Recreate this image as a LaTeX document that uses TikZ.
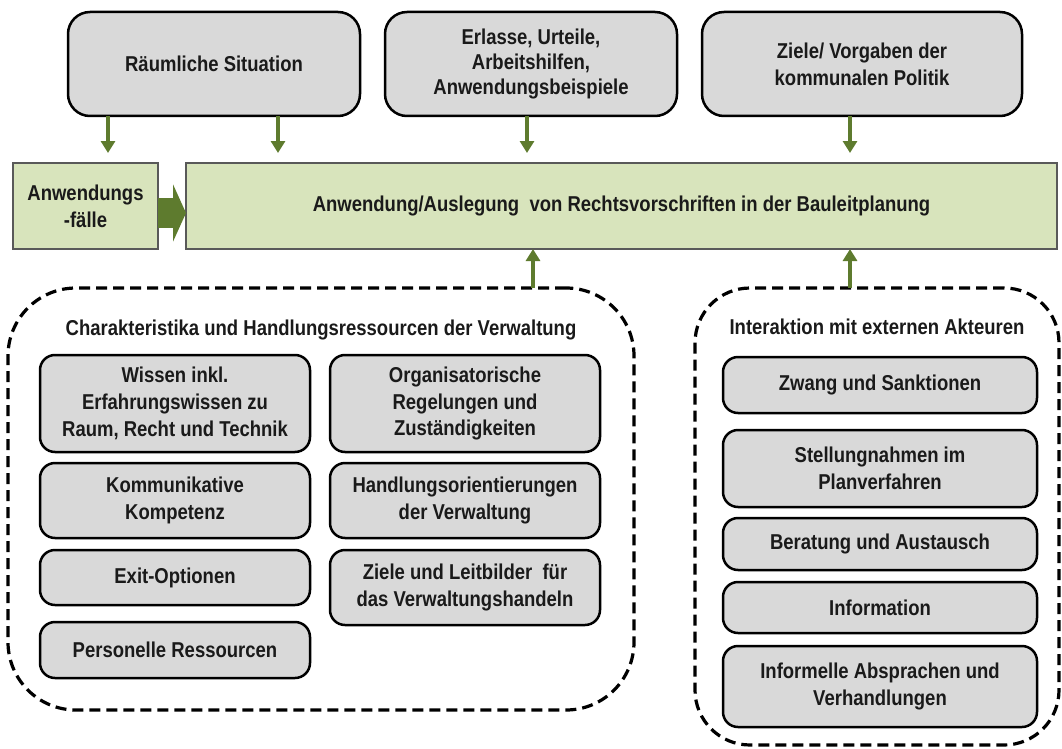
\documentclass[tikz,border=0pt]{standalone}
\usepackage{fontspec}
\setmainfont{Liberation Sans}[FakeStretch=0.86]
\usetikzlibrary{arrows.meta}

\definecolor{boxgray}{HTML}{D9D9D9}
\definecolor{lightgreen}{HTML}{D8E4BC}
\definecolor{framegray}{HTML}{595959}
\definecolor{arrowgreen}{HTML}{5E7B2E}
\definecolor{ink}{HTML}{1A1A1A}

\tikzset{
  every node/.style={outer sep=0pt, inner sep=2pt, align=center, text=ink,
    font=\fontsize{21.5}{26.7}\selectfont\bfseries},
  topbox/.style={draw=black, line width=2.5pt, fill=boxgray, rounded corners=22pt},
  itembox/.style={draw=black, line width=2.5pt, fill=boxgray, rounded corners=15pt},
  greenbox/.style={draw=framegray, line width=2pt, fill=lightgreen},
  region/.style={draw=black, line width=3.2pt, dash pattern=on 11pt off 6pt},
  feed/.style={draw=arrowgreen, line width=4pt, -{Triangle[length=12pt,width=14pt]}},
}

\begin{document}
\begin{tikzpicture}[x=1pt,y=-1pt]
\useasboundingbox (0,0) rectangle (1062,749);

% influences at the top
\node[topbox, minimum width=292pt, minimum height=104pt] (raum) at (214,64) {Räumliche Situation};
\node[topbox, minimum width=292pt, minimum height=104pt,
      font=\fontsize{21.5}{25}\selectfont\bfseries] (erl) at (531,64) {Erlasse, Urteile,\\Arbeitshilfen,\\Anwendungsbeispiele};
\node[topbox, minimum width=320pt, minimum height=104pt] (ziel) at (862,64) {Ziele/ Vorgaben der\\kommunalen Politik};

% central row
\node[greenbox, minimum width=145pt, minimum height=86pt] (af) at (85.5,206) {Anwendungs\\-fälle};
\node[greenbox, minimum width=871pt, minimum height=86pt] (main) at (621.5,206) {Anwendung/Auslegung\ \ von Rechtsvorschriften in der Bauleitplanung};

% administration resources
\node[region, rounded corners=68pt, minimum width=626pt, minimum height=422pt] (verw) at (321,499) {};
\node (verwt) at (321,330) {Charakteristika und Handlungsressourcen der Verwaltung};
\node[itembox, minimum width=270pt, minimum height=97pt] (wissen) at (175,403.5) {Wissen inkl.\\Erfahrungswissen zu\\Raum, Recht und Technik};
\node[itembox, minimum width=270pt, minimum height=75pt] (komm) at (175,500.5) {Kommunikative\\Kompetenz};
\node[itembox, minimum width=270pt, minimum height=55pt] (exit) at (175,577.5) {Exit-Optionen};
\node[itembox, minimum width=270pt, minimum height=56pt] (pers) at (175,650) {Personelle Ressourcen};
\node[itembox, minimum width=270pt, minimum height=97pt] (org) at (465,403.5) {Organisatorische\\Regelungen und\\Zuständigkeiten};
\node[itembox, minimum width=270pt, minimum height=75pt] (hand) at (465,500.5) {Handlungsorientierungen\\der Verwaltung};
\node[itembox, minimum width=270pt, minimum height=75pt] (leit) at (465,587.5) {Ziele und Leitbilder\ \ für\\das Verwaltungshandeln};

% interaction with external actors
\node[region, rounded corners=55pt, minimum width=364pt, minimum height=457pt] (ext) at (877,516.5) {};
\node (extt) at (877,327) {Interaktion mit externen Akteuren};
\node[itembox, minimum width=314pt, minimum height=56pt] (zwang) at (880,385) {Zwang und Sanktionen};
\node[itembox, minimum width=314pt, minimum height=77pt] (stell) at (880,468.5) {Stellungnahmen im\\Planverfahren};
\node[itembox, minimum width=314pt, minimum height=52pt] (berat) at (880,544) {Beratung und Austausch};
\node[itembox, minimum width=314pt, minimum height=51pt] (info) at (880,607.5) {Information};
\node[itembox, minimum width=314pt, minimum height=81pt] (infa) at (880,686.5) {Informelle Absprachen und\\Verhandlungen};

% connector columns
\coordinate (c1) at (108,0);
\coordinate (c2) at (278,0);
\coordinate (c3) at (527,0);
\coordinate (c4) at (850,0);
\coordinate (c5) at (533,0);

\draw[feed, shorten >=10pt] (raum.south -| c1) -- (af.north -| c1);
\draw[feed, shorten >=10pt] (raum.south -| c2) -- (main.north -| c2);
\draw[feed, shorten >=10pt] (erl.south -| c3) -- (main.north -| c3);
\draw[feed, shorten >=10pt] (ziel.south -| c4) -- (main.north -| c4);
\draw[feed] (verw.north -| c5) -- (main.south -| c5);
\draw[feed] (ext.north -| c4) -- (main.south -| c4);

% broad arrow into the application box
\draw[arrowgreen, line width=30pt, -{Triangle[length=13pt,width=57pt]}]
  ([yshift=-7pt]af.east) -- ([yshift=-7pt]main.west);
\end{tikzpicture}
\end{document}
